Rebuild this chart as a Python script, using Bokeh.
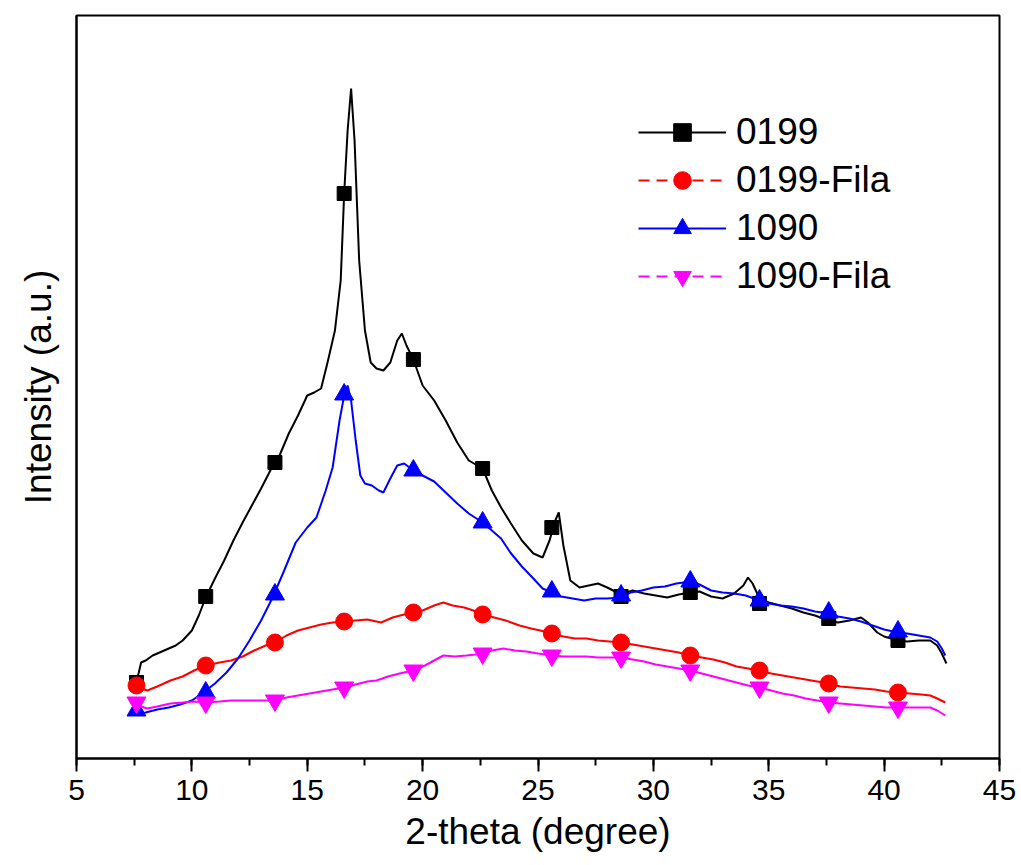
from bokeh.plotting import figure
from bokeh.models import (Range1d, SingleIntervalTicker, FixedTicker, Legend, LegendItem,
                          ColumnDataSource)
from bokeh.embed import file_html
from bokeh.resources import INLINE

# ---------------- data (arbitrary intensity units) ----------------
x_0199 = [7.6, 7.7, 7.8, 8.0, 8.3, 8.6, 9.0, 9.3, 9.6, 10.0, 10.3, 10.6, 11.0, 11.4, 11.8, 12.2,
          12.6, 13.0, 13.4, 13.8, 14.2, 14.6, 15.0, 15.3, 15.6, 15.9, 16.2, 16.45, 16.6, 16.75,
          16.9, 17.05, 17.25, 17.5, 17.75, 18.0, 18.3, 18.6, 18.9, 19.1, 19.3, 19.6, 20.0, 20.5,
          21.0, 21.5, 22.0, 22.6, 23.0, 23.4, 23.8, 24.3, 24.8, 25.2, 25.5, 25.75, 25.9, 26.1,
          26.4, 26.8, 27.2, 27.6, 28.0, 28.6, 29.1, 29.6, 30.1, 30.6, 31.1, 31.6, 32.0, 32.5,
          33.0, 33.5, 33.9, 34.1, 34.3, 34.6, 35.0, 35.5, 36.0, 36.5, 37.0, 37.6, 38.0, 38.5,
          39.0, 39.3, 39.7, 40.0, 40.6, 41.0, 41.5, 42.0, 42.3, 42.5, 42.7]
y_0199 = [78, 86, 96, 98, 103, 106, 110, 113, 118, 128, 143, 161, 180, 198, 218, 236,
          253, 270, 288, 303, 325, 343, 363, 366, 370, 398, 428, 478, 565, 628,
          670, 618, 498, 428, 396, 390, 388, 396, 418, 425, 413, 399, 373, 358,
          338, 316, 298, 290, 268, 251, 236, 218, 205, 201, 218, 238, 246, 213,
          178, 171, 173, 175, 171, 164, 168, 165, 163, 161, 164, 166, 167, 162,
          160, 165, 173, 181, 175, 160, 156, 153, 150, 146, 143, 138, 136, 138,
          141, 136, 126, 122, 118, 117, 118, 118, 113, 105, 95]

x_1090 = [7.6, 8.0, 8.5, 9.0, 9.5, 10.0, 10.5, 11.0, 11.5, 12.0, 12.5, 13.0, 13.5, 14.0, 14.5,
          15.0, 15.4, 15.8, 16.1, 16.4, 16.6, 16.75, 16.9, 17.1, 17.3, 17.5, 17.8, 18.1, 18.3,
          18.6, 18.9, 19.2, 19.6, 20.0, 20.5, 21.0, 21.5, 22.0, 22.6, 23.0, 23.4, 23.8, 24.3,
          24.8, 25.2, 25.6, 26.0, 26.5, 27.0, 27.5, 28.0, 28.6, 29.0, 29.5, 30.0, 30.5, 31.0,
          31.6, 32.0, 32.5, 33.0, 33.5, 34.0, 34.6, 35.0, 35.5, 36.0, 36.5, 37.0, 37.6, 38.0,
          38.5, 39.0, 39.5, 40.0, 40.6, 41.0, 41.5, 42.0, 42.3, 42.5, 42.65]
y_1090 = [45, 46, 49, 51, 54, 58, 66, 75, 86, 100, 118, 138, 161, 188, 216,
          231, 241, 268, 291, 338, 363, 373, 358, 318, 283, 275, 273, 268, 266,
          280, 293, 295, 288, 283, 277, 266, 255, 245, 236, 228, 220, 206, 192,
          180, 170, 166, 162, 160, 158, 160, 160, 161, 166, 168, 171, 172, 175,
          177, 174, 168, 166, 165, 163, 158, 155, 153, 152, 150, 147, 145, 142,
          140, 137, 133, 129, 126, 125, 123, 121, 117, 110, 103]

x_fila = [7.6, 7.8, 8.07, 8.5, 9.07, 9.6, 10.1, 10.6, 11.2, 11.7, 12.2, 12.7, 13.2, 13.6, 14.1,
          14.6, 15.1, 15.6, 16.1, 16.6, 17.1, 17.6, 18.2, 18.7, 19.2, 19.6, 20.0, 20.5, 20.9,
          21.3, 21.8, 22.2, 22.6, 23.1, 23.6, 24.2, 24.7, 25.1, 25.6, 26.1, 26.6, 27.1, 27.6,
          28.1, 28.6, 29.1, 29.6, 30.1, 30.6, 31.1, 31.6, 32.1, 32.6, 33.1, 33.6, 34.1, 34.6,
          35.1, 35.6, 36.1, 36.6, 37.1, 37.6, 38.1, 38.6, 39.1, 39.6, 40.1, 40.6, 41.1, 41.6,
          42.0, 42.3, 42.65]
y_0199_fila = [73, 70, 68, 72, 78, 82, 88, 93, 96, 98, 102, 108, 113, 116, 123,
               128, 131, 134, 136, 137, 138, 139, 136, 141, 144, 146, 148, 153, 156,
               153, 151, 148, 144, 141, 138, 133, 130, 128, 125, 122, 120, 120, 118,
               117, 116, 114, 112, 110, 108, 106, 103, 101, 99, 96, 92, 90, 88,
               85, 83, 81, 79, 77, 75, 72, 71, 70, 69, 67, 66, 65, 64,
               63, 60, 56]

x_fila2 = [7.6, 7.8, 8.07, 8.5, 9.07, 9.6, 10.1, 10.6, 11.2, 11.7, 12.2, 12.7, 13.2, 13.6, 14.1,
           14.6, 15.1, 15.6, 16.1, 16.6, 17.1, 17.6, 18.0, 18.5, 19.0, 19.6, 20.1, 20.5, 20.9,
           21.4, 21.9, 22.3, 22.6, 23.0, 23.5, 24.0, 24.5, 25.0, 25.6, 26.1, 26.6, 27.1, 27.6,
           28.1, 28.6, 29.1, 29.6, 30.1, 30.6, 31.1, 31.6, 32.1, 32.6, 33.1, 33.6, 34.1, 34.6,
           35.1, 35.6, 36.1, 36.6, 37.1, 37.6, 38.1, 38.6, 39.1, 39.6, 40.1, 40.6, 41.1, 41.6,
           42.0, 42.3, 42.65]
y_1090_fila = [58, 52, 50, 52, 55, 56, 57, 56, 57, 58, 58, 58, 58, 58, 61,
               63, 65, 67, 69, 71, 74, 77, 78, 82, 85, 88, 93, 98, 103,
               102, 103, 104, 105, 108, 110, 108, 107, 105, 103, 102, 102, 102, 101,
               101, 101, 99, 97, 94, 92, 90, 88, 85, 82, 79, 76, 73, 71,
               68, 65, 63, 60, 58, 56, 55, 54, 53, 52, 51, 51, 51, 51,
               51, 48, 43]

# marker symbols (every 3 degrees)
x_markers = [7.6, 10.6, 13.6, 16.6, 19.6, 22.6, 25.6, 28.6, 31.6, 34.6, 37.6, 40.6]
m_0199 = [76, 162, 296, 565, 399, 290, 231, 162, 166, 155, 140, 118]
m_0199_fila = [73, 93, 116, 137, 146, 144, 125, 116, 103, 88, 75, 66]
m_1090 = [48, 66, 164, 364, 288, 236, 167, 163, 177, 158, 146, 127]
m_1090_fila = [56, 56, 58, 71, 88, 105, 103, 101, 88, 71, 56, 51]

series_names = ["0199", "0199-Fila", "1090", "1090-Fila"]

FONT = "Liberation Sans"
NAN = float("nan")

p = figure(width=1021, height=865, output_backend="svg", toolbar_location=None,
           x_range=Range1d(5, 45), y_range=Range1d(0, 743),
           min_border_left=76, min_border_right=22, min_border_top=15, min_border_bottom=107)
p.background_fill_color = "white"
p.border_fill_color = "white"
p.outline_line_color = "black"
p.outline_line_width = 2
p.xgrid.visible = False
p.ygrid.visible = False

series = [
    (x_0199, y_0199, m_0199, "black", "square", 14, None),
    (x_fila, y_0199_fila, m_0199_fila, "#FF0000", "circle", 17, "11 7"),
    (x_1090, y_1090, m_1090, "#0000FF", "triangle", 19, None),
    (x_fila2, y_1090_fila, m_1090_fila, "#FF00FF", "inverted_triangle", 19, "11 7"),
]

items = []
for (xs, ys, ms, col, mk, sz, dash), name in zip(series, series_names):
    p.line(xs, ys, line_color=col, line_width=2)
    p.scatter(x_markers, ms, marker=mk, size=sz, fill_color=col, line_color=col)
    # legend-only renderers (hold a single NaN point, so nothing is drawn in the plot)
    src = ColumnDataSource(data=dict(x=[NAN], y=[NAN]))
    lr = p.line("x", "y", source=src, line_color=col, line_width=2,
                line_dash=dash if dash else "solid")
    sr = p.scatter("x", "y", source=src, marker=mk, size=sz, fill_color=col, line_color=col)
    items.append(LegendItem(label=name, renderers=[lr, sr], index=0))

legend = Legend(items=items, location=(562, 460), orientation="vertical",
                glyph_width=88, glyph_height=44, label_height=44, spacing=4,
                label_standoff=10, padding=0, margin=0,
                border_line_color=None, background_fill_alpha=0,
                label_text_font=FONT, label_text_font_size="37px", label_text_color="black")
p.add_layout(legend)

xa = p.xaxis[0]
xa.ticker = SingleIntervalTicker(interval=5, num_minor_ticks=2)
xa.axis_label = "2-theta (degree)"
xa.axis_label_text_font = FONT
xa.axis_label_text_font_size = "37px"
xa.axis_label_text_font_style = "normal"
xa.axis_label_text_color = "black"
xa.axis_label_standoff = 8
xa.major_label_text_font = FONT
xa.major_label_text_font_size = "30px"
xa.major_label_text_color = "black"
xa.major_label_standoff = 8
xa.axis_line_width = 2
xa.major_tick_line_width = 2
xa.minor_tick_line_width = 2
xa.major_tick_out = 13
xa.major_tick_in = 0
xa.minor_tick_out = 7
xa.minor_tick_in = 0

ya = p.yaxis[0]
ya.ticker = FixedTicker(ticks=[])
ya.axis_label = "Intensity (a.u.)"
ya.axis_label_text_font = FONT
ya.axis_label_text_font_size = "37px"
ya.axis_label_text_font_style = "normal"
ya.axis_label_text_color = "black"
ya.axis_label_standoff = 18
ya.major_label_text_font_size = "0px"
ya.major_tick_out = 0
ya.minor_tick_out = 0
ya.axis_line_width = 2

open("out.html", "w").write(file_html(p, INLINE))
